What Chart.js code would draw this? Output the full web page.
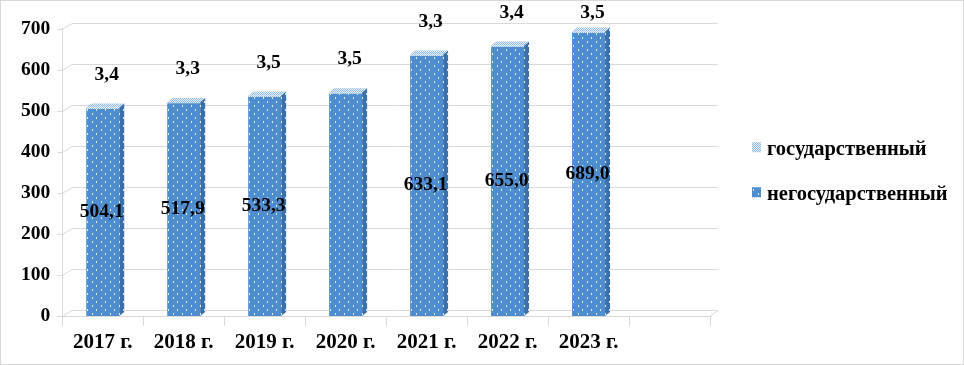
<!DOCTYPE html>
<html>
<head>
<meta charset="utf-8">
<script src="https://cdn.jsdelivr.net/npm/chart.js@4.4.1/dist/chart.umd.min.js"></script>
<style>
    body { margin: 0; background: #fff; }
    #box { width: 962px; height: 363px; border: 1px solid #d9d9d9; }
</style>
</head>
<body>
<div id="box"><canvas id="myChart" width="962" height="363"></canvas></div>
<script>
const years = ['2017 г.', '2018 г.', '2019 г.', '2020 г.', '2021 г.', '2022 г.', '2023 г.', ''];
const nonState = [504.1, 517.9, 533.3, 541.0, 633.1, 655.0, 689.0];
const state = [3.4, 3.3, 3.5, 3.5, 3.3, 3.4, 3.5];
// the 2020 value is not printed on the original picture
const nonStateLabelShown = [true, true, true, false, true, true, true];
const seriesNames = ['негосударственный', 'государственный'];
const yMax = 700;
const yStep = 100;

const FONT = "'Liberation Serif', serif";
const canvas = document.getElementById('myChart');
const ctx = canvas.getContext('2d');

function makePattern(w, h, paint) {
    var c = document.createElement('canvas');
    c.width = w;
    c.height = h;
    paint(c.getContext('2d'));
    return ctx.createPattern(c, 'repeat');
}

function dots(base) {
    return makePattern(9, 8, function (g) {
        g.fillStyle = base;
        g.fillRect(0, 0, 9, 8);
        g.fillStyle = 'rgba(255,255,255,0.85)';
        g.fillRect(1, 0, 1, 2);
        g.fillRect(5, 4, 1, 2);
    });
}

function hatch() {
    return makePattern(2, 2, function (g) {
        g.fillStyle = '#e6f0fa';
        g.fillRect(0, 0, 2, 2);
        g.fillStyle = '#8fb8e2';
        g.fillRect(0, 0, 1, 1);
        g.fillRect(1, 1, 1, 1);
    });
}

const frontFill = dots('#4e8dcf');
const sideFill = dots('#3a71ad');
const topFill = hatch();

function fmt(v) {
    return v.toFixed(1).replace('.', ',');
}

const DX = 5, DY = 4;

const deco = {
    id: 'deco',
    beforeDatasetsDraw: function (chart) {
        var a = chart.chartArea;
        var ys = chart.scales.y;
        var c = chart.ctx;
        c.save();
        c.strokeStyle = '#d9d9d9';
        c.lineWidth = 1;
        ys.ticks.forEach(function (t) {
            var y = Math.round(ys.getPixelForValue(t.value)) + 0.5;
            c.beginPath();
            c.moveTo(a.left - 5, y);
            c.lineTo(a.left, y);
            c.lineTo(a.left + 10, y - 6);
            c.lineTo(a.right + 8, y - 6);
            if (t.value === 0) {
                c.moveTo(a.right, y);
                c.lineTo(a.right + 8, y - 6);
            }
            c.stroke();
        });
        c.restore();
    },
    afterDatasetsDraw: function (chart) {
        var c = chart.ctx;
        var m0 = chart.getDatasetMeta(0);
        var m1 = chart.getDatasetMeta(1);
        c.save();
        m0.data.forEach(function (bar, i) {
            var topBar = m1.data[i];
            var left = bar.x - bar.width / 2;
            var right = bar.x + bar.width / 2;
            var top = topBar.y;
            var base = bar.base;
            // side face
            c.fillStyle = sideFill;
            c.beginPath();
            c.moveTo(right, top);
            c.lineTo(right + DX, top - DY);
            c.lineTo(right + DX, base - DY);
            c.lineTo(right, base);
            c.closePath();
            c.fill();
            // top face
            c.fillStyle = topFill;
            c.beginPath();
            c.moveTo(left, top);
            c.lineTo(left + DX, top - DY);
            c.lineTo(right + DX, top - DY);
            c.lineTo(right, top);
            c.closePath();
            c.fill();
        });
        c.fillStyle = '#000';
        c.font = 'bold 19.5px ' + FONT;
        c.textAlign = 'center';
        c.textBaseline = 'middle';
        m0.data.forEach(function (bar, i) {
            var topBar = m1.data[i];
            if (nonStateLabelShown[i]) {
                c.fillText(fmt(nonState[i]), bar.x - 1, (topBar.y + bar.base) / 2);
            }
            c.fillText(fmt(state[i]), bar.x + 4, Math.max(topBar.y - 33, 11.5));
        });
        c.restore();
    },
    // legend to the right of the plot: state first, then non-state
    afterDraw: function (chart) {
        var a = chart.chartArea;
        var c = chart.ctx;
        var mid = (a.top + a.bottom) / 2;
        var rows = [
            { name: seriesNames[1], fill: topFill, y: mid - 23 },
            { name: seriesNames[0], fill: frontFill, y: mid + 22 }
        ];
        c.save();
        c.font = 'bold 20.5px ' + FONT;
        c.textAlign = 'left';
        c.textBaseline = 'middle';
        rows.forEach(function (r) {
            c.fillStyle = r.fill;
            c.fillRect(a.right + 42, r.y - 7, 9, 10);
            c.fillStyle = '#000';
            c.fillText(r.name, a.right + 57, r.y);
        });
        c.restore();
    }
};

const data = {
    labels: years,
    datasets: [{
        label: seriesNames[0],
        data: nonState,
        backgroundColor: frontFill
    }, {
        label: seriesNames[1],
        data: state,
        backgroundColor: topFill
    }]
};

const config = {
    type: 'bar',
    data: data,
    options: {
        responsive: false,
        animation: false,
        datasets: {
            bar: {
                barPercentage: 0.407,
                categoryPercentage: 1
            }
        },
        layout: {
            padding: { left: 8, top: 27.5, right: 253, bottom: 4.8 }
        },
        scales: {
            x: {
                stacked: true,
                grid: {
                    offset: true,
                    drawOnChartArea: false,
                    tickLength: 10,
                    color: '#d9d9d9'
                },
                border: { color: '#d9d9d9' },
                ticks: {
                    padding: 4,
                    color: '#000',
                    font: { family: FONT, size: 21, weight: 'bold' }
                }
            },
            y: {
                stacked: true,
                min: 0,
                max: yMax,
                grid: { display: false, drawTicks: false },
                border: { color: '#d9d9d9' },
                ticks: {
                    stepSize: yStep,
                    padding: 12,
                    color: '#000',
                    font: { family: FONT, size: 19.5, weight: 'bold' }
                }
            }
        },
        plugins: {
            legend: { display: false },
            tooltip: { enabled: false }
        }
    },
    plugins: [deco]
};

var myChart = new Chart(canvas, config);
</script>
</body>
</html>
